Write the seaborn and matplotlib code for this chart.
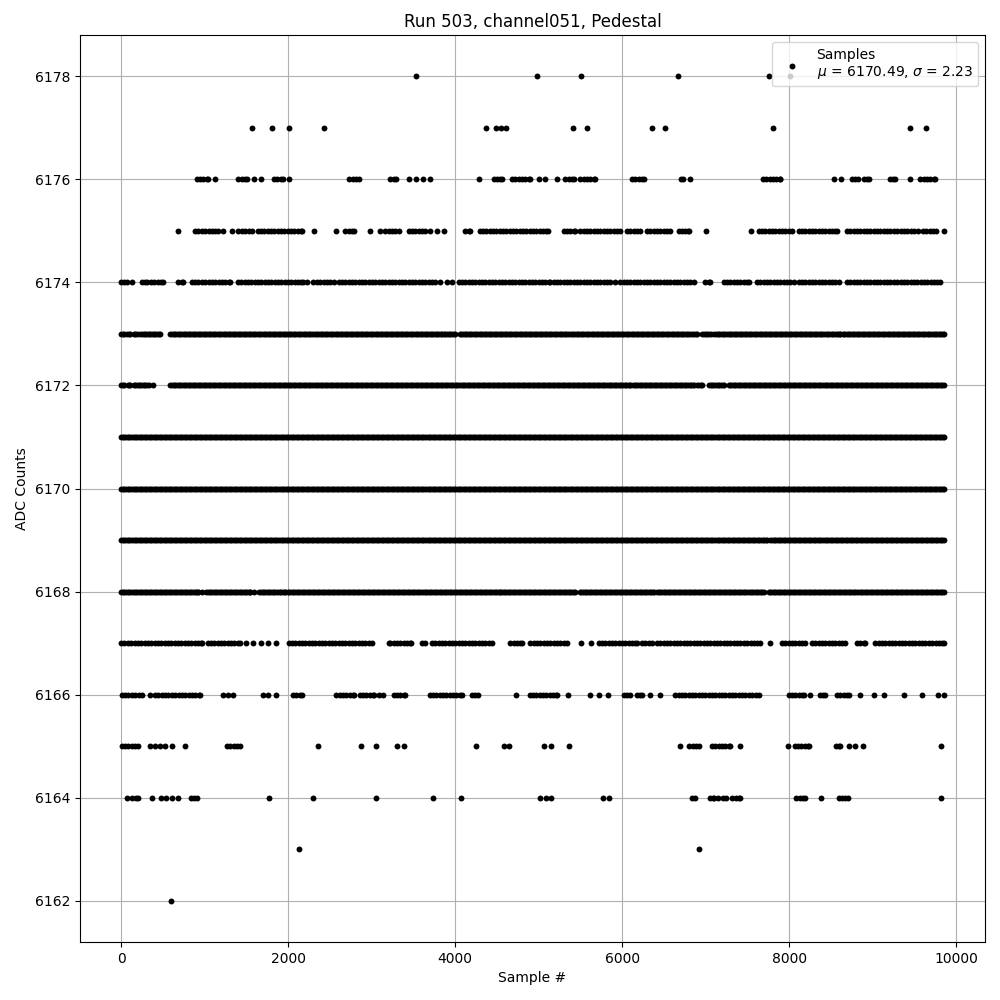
# Muestras del pedestal de un canal: cada nivel de ADC con los tramos de
# muestras (inicio, fin) donde aparecen puntos. Un punto aislado es (x, x).
import numpy as np
import pandas as pd
import seaborn as sns
import matplotlib
matplotlib.use("Agg")
import matplotlib.pyplot as plt

run_number = 503
channel = "channel051"
mu_label = 6170.49
sigma_label = 2.23

step_denso = 20     # niveles centrales, casi todas las muestras
step_disperso = 40  # niveles de las colas, puntos mas sueltos
niveles_densos = [6168, 6169, 6170, 6171, 6172, 6173]

tramos_6178 = [(3530, 3530), (4980, 4980), (5500, 5500), (6670, 6670), (7760, 7760), (8010, 8010)]
tramos_6177 = [(1572, 1572), (1812, 1812), (2008, 2008), (2434, 2434), (4363, 4363), (4483, 4483),
               (4543, 4543), (4603, 4603), (5405, 5405), (5572, 5572), (6351, 6351), (6507, 6507),
               (7800, 7800), (9449, 9449), (9632, 9632)]
tramos_6176 = [(906, 1034), (1118, 1118), (1405, 1505), (1593, 1593), (1673, 1673), (1832, 1936),
               (2008, 2008), (2734, 2842), (3221, 3293), (3441, 3441), (3530, 3530), (3620, 3620),
               (3700, 3700), (4279, 4279), (4459, 4559), (4679, 4898), (4998, 4998), (5078, 5078),
               (5218, 5218), (5317, 5417), (5497, 5677), (6116, 6255), (6706, 6726), (6806, 6806),
               (7685, 7892), (8531, 8531), (8619, 8619), (8750, 8818), (8890, 8950), (9201, 9261),
               (9449, 9449), (9569, 9749)]
tramos_6175 = [(675, 675), (886, 1165), (1218, 1218), (1333, 1333), (1405, 1565), (1633, 1944),
               (1992, 2164), (2315, 2315), (2567, 2567), (2683, 2782), (2982, 2982), (3094, 3094),
               (3162, 3321), (3441, 3641), (3700, 3700), (3781, 3781), (3860, 3860), (4120, 4180),
               (4291, 5106), (5297, 5437), (5497, 5976), (6056, 6215), (6296, 6575), (6674, 6674),
               (6710, 6794), (7006, 7006), (7545, 7545), (7633, 8032), (8112, 8571), (8691, 9489),
               (9537, 9537), (9601, 9760), (9848, 9848)]
tramos_6174 = [(0, 68), (136, 136), (248, 307), (359, 507), (686, 746), (846, 1306), (1397, 2183),
               (2224, 2224), (2303, 2543), (2603, 3761), (3821, 3821), (3901, 3901), (3960, 3960),
               (4040, 4040), (4080, 4758), (4799, 5118), (5138, 5856), (5916, 5916), (5976, 6854),
               (6994, 7054), (7213, 7513), (7613, 8052), (8112, 8591), (8691, 9808)]
tramos_6173 = [(0, 30), (70, 110), (150, 188), (228, 467), (587, 3841), (3860, 4000), (4052, 6830),
               (6860, 6900), (6960, 7060), (7100, 7213), (7245, 8611), (8638, 9848)]
tramos_6172 = [(0, 40), (80, 110), (150, 330), (380, 380), (587, 6096), (6128, 6860), (6900, 6960),
               (7040, 7213), (7273, 9850)]
tramos_6171 = [(0, 9850)]
tramos_6170 = [(0, 9850)]
tramos_6169 = [(0, 7733), (7773, 9850)]
tramos_6168 = [(0, 926), (966, 966), (1018, 1545), (1585, 1585), (1656, 1964), (1992, 4539),
               (4559, 4858), (4878, 5437), (5489, 6375), (6415, 7692), (7752, 9850)]
tramos_6167 = [(0, 966), (1034, 1425), (1493, 1493), (1577, 1577), (1673, 1673), (1764, 1764),
               (1852, 1852), (2004, 3002), (3201, 3201), (3221, 3469), (3601, 3641), (3721, 4439),
               (4659, 4799), (4898, 5338), (5501, 5501), (5629, 5629), (5716, 6176), (6236, 6355),
               (6415, 7653), (7764, 7764), (7912, 8192), (8271, 8671), (8810, 8910), (9030, 9848)]
tramos_6166 = [(8, 248), (347, 347), (407, 946), (1225, 1225), (1285, 1285), (1345, 1345),
               (1697, 1697), (1764, 1764), (1856, 1856), (2056, 2164), (2575, 2782), (2854, 3022),
               (3082, 3082), (3141, 3141), (3261, 3401), (3692, 4080), (4200, 4267), (4730, 4730),
               (4890, 5218), (5345, 5345), (5617, 5617), (5716, 5716), (5824, 5824), (6016, 6096),
               (6176, 6236), (6327, 6327), (6447, 6447), (6635, 7633), (7992, 8172), (8243, 8243),
               (8363, 8431), (8571, 8711), (8850, 8850), (9018, 9018), (9130, 9130), (9369, 9369),
               (9585, 9585), (9784, 9784), (9850, 9850)]
tramos_6165 = [(8, 207), (347, 347), (407, 407), (467, 467), (527, 527), (607, 607), (759, 759),
               (1266, 1425), (2351, 2351), (2870, 2870), (3054, 3054), (3301, 3301), (3389, 3389),
               (4243, 4243), (4579, 4579), (4639, 4639), (5058, 5058), (5146, 5146), (5357, 5357),
               (6686, 6686), (6802, 6914), (7074, 7294), (7405, 7405), (7980, 7980), (8064, 8231),
               (8559, 8603), (8711, 8711), (8782, 8782), (8878, 8878), (9812, 9812)]
tramos_6164 = [(76, 76), (136, 200), (375, 375), (479, 479), (539, 539), (611, 611), (675, 675),
               (838, 906), (1776, 1776), (2303, 2303), (3054, 3054), (3729, 3729), (4064, 4064),
               (5010, 5010), (5090, 5090), (5146, 5146), (5765, 5765), (5836, 5836), (6834, 6874),
               (7046, 7094), (7150, 7150), (7200, 7240), (7310, 7310), (7360, 7405), (8084, 8192),
               (8379, 8379), (8591, 8703), (9812, 9812)]
tramos_6163 = [(2124, 2124), (6914, 6914)]
tramos_6162 = [(591, 591)]

niveles = {
    6178: tramos_6178, 6177: tramos_6177, 6176: tramos_6176, 6175: tramos_6175,
    6174: tramos_6174, 6173: tramos_6173, 6172: tramos_6172, 6171: tramos_6171,
    6170: tramos_6170, 6169: tramos_6169, 6168: tramos_6168, 6167: tramos_6167,
    6166: tramos_6166, 6165: tramos_6165, 6164: tramos_6164, 6163: tramos_6163,
    6162: tramos_6162,
}

# Armamos la tabla de muestras
filas = []
for adc, tramos in niveles.items():
    step = step_denso if adc in niveles_densos else step_disperso
    for ini, fin in tramos:
        for x in np.arange(ini, fin + 1, step):
            filas.append((x, adc))
        if (fin - ini) % step != 0:
            filas.append((fin, adc))
df = pd.DataFrame(filas, columns=["sample", "adc"])

fig, ax = plt.subplots(figsize=(10, 10), dpi=100)
fig.subplots_adjust(left=0.08, right=0.985, top=0.965, bottom=0.058)

label = f"Samples\n$\\mu$ = {mu_label:.2f}, $\\sigma$ = {sigma_label:.2f}"
sns.scatterplot(data=df, x="sample", y="adc", color="black", s=18, linewidth=0,
                label=label, ax=ax)

ax.set_title(f"Run {run_number}, {channel}, Pedestal")
ax.set_xlabel("Sample #")
ax.set_ylabel("ADC Counts")
ax.set_yticks(np.arange(6162, 6179, 2))
ax.grid(True)
ax.set_axisbelow(True)
ax.legend(loc="upper right")

fig.savefig("out.png", dpi=100)
